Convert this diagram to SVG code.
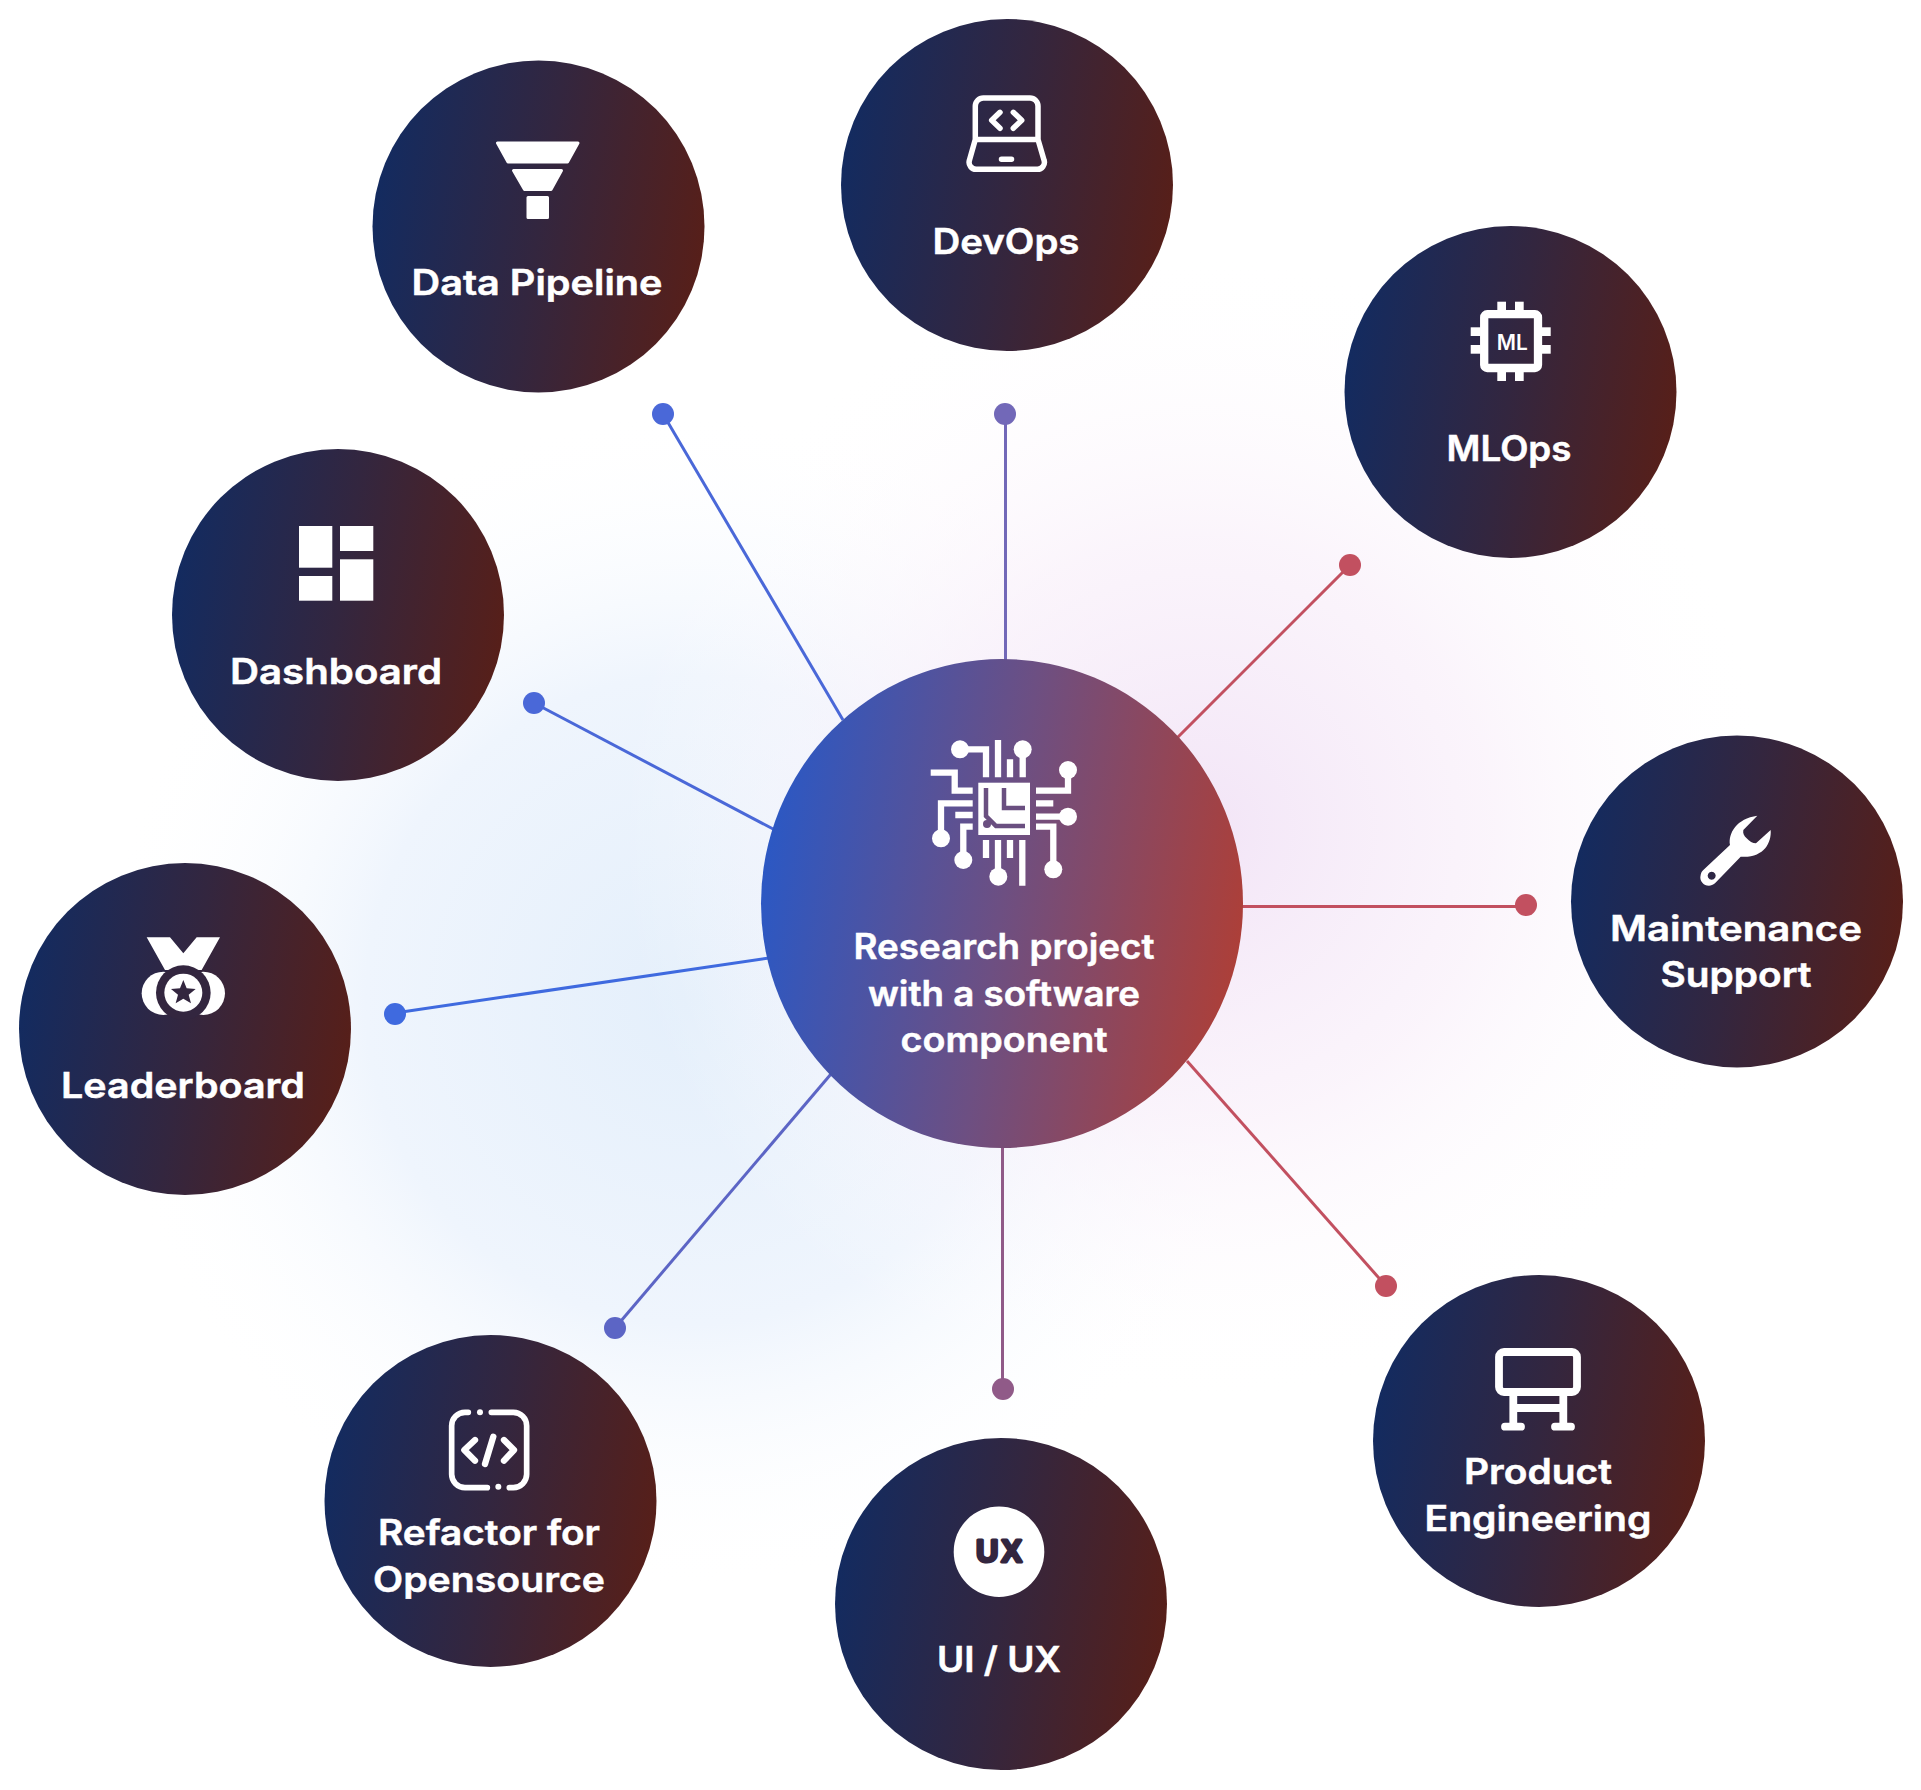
<svg xmlns="http://www.w3.org/2000/svg" width="1921" height="1790" viewBox="0 0 1921 1790">
<style>
.lbl{font-family:"Inter","Liberation Sans",sans-serif;font-weight:600;font-size:35px;fill:#fff;stroke:#fff;stroke-width:.5;text-anchor:middle}
.w{fill:#fff}
.s{fill:none;stroke:#fff;stroke-linecap:round;stroke-linejoin:round}
.b{fill:none;stroke:#fff;stroke-linecap:butt;stroke-linejoin:miter;stroke-width:6.3}
.con{stroke-width:3;fill:none}
.node{fill:url(#nodeGrad)}
</style>
<defs>
<linearGradient id="nodeGrad" x1="0" y1="0.42" x2="1" y2="0.58"><stop offset="0" stop-color="#132b60"/><stop offset="0.5" stop-color="#33263f"/><stop offset="1" stop-color="#571f19"/></linearGradient>
<linearGradient id="hubGrad" x1="0" y1="0.42" x2="1" y2="0.58"><stop offset="0" stop-color="#2b58c4"/><stop offset="0.5" stop-color="#6d4f82"/><stop offset="1" stop-color="#ad3f38"/></linearGradient>
<radialGradient id="bgBlue"><stop offset="0" stop-color="#e4effb"/><stop offset="0.55" stop-color="#eff5fd"/><stop offset="1" stop-color="#fff" stop-opacity="0"/></radialGradient>
<radialGradient id="bgPink"><stop offset="0" stop-color="#f0e0f5" stop-opacity="0.85"/><stop offset="0.5" stop-color="#f9f0fa" stop-opacity="0.7"/><stop offset="1" stop-color="#fff" stop-opacity="0"/></radialGradient>
</defs>
<rect width="1921" height="1790" fill="#fff"/>
<circle cx="690" cy="1000" r="590" fill="url(#bgBlue)"/>
<circle cx="1200" cy="830" r="580" fill="url(#bgPink)"/>

<g id="connectors">
<g class="con">
<line x1="663" y1="414" x2="843" y2="720" stroke="#4a68d8"/>
<line x1="1005.5" y1="414" x2="1005.5" y2="662" stroke="#7268b8"/>
<line x1="1350" y1="565" x2="1177" y2="738" stroke="#c25060"/>
<line x1="1526" y1="906.5" x2="1242" y2="906.5" stroke="#c25060"/>
<line x1="1386" y1="1286" x2="1187" y2="1061" stroke="#c25060"/>
<line x1="1002.5" y1="1389" x2="1002.5" y2="1146" stroke="#905a88"/>
<line x1="615" y1="1328" x2="831" y2="1074" stroke="#5c65c5"/>
<line x1="395" y1="1013" x2="769" y2="958" stroke="#3f6adf"/>
<line x1="534" y1="703" x2="775" y2="830" stroke="#4a68d8"/>
</g>
<circle cx="663" cy="414" r="11" fill="#4a68d8"/>
<circle cx="1005" cy="414" r="11" fill="#7268b8"/>
<circle cx="1350" cy="565" r="11" fill="#c25060"/>
<circle cx="1526" cy="905" r="11" fill="#c25060"/>
<circle cx="1386" cy="1286" r="11" fill="#c25060"/>
<circle cx="1003" cy="1389" r="11" fill="#905a88"/>
<circle cx="615" cy="1328" r="11" fill="#5c65c5"/>
<circle cx="395" cy="1014" r="11" fill="#3f6adf"/>
<circle cx="534" cy="703" r="11" fill="#4a68d8"/>
</g>

<g id="hub">
<ellipse cx="1002" cy="903.5" rx="241" ry="244.5" fill="url(#hubGrad)"/>
<g class="b">
<path d="M960 749.3H986V777.3M998 740V777.3M1010 759.3V777.3M1022.7 749.3V777.3M930.7 772.7H954.7V790.7H972.7M941 838V803.3H972.7M955.3 815H972.7M963.3 860V826.7H972.7M1036 790.7H1068V770M1036 803.3H1053.3M1036 816.7H1068M1036 826.7H1053.3V869.3M986 840V858M998 840V876.7M1010 840V858M1022.3 840V885.7"/>
</g>
<g class="w">
<circle cx="960" cy="749.3" r="9"/><circle cx="1022.7" cy="749.3" r="9"/><circle cx="1068" cy="770" r="9"/><circle cx="1068" cy="816.7" r="9"/><circle cx="941" cy="838.3" r="9"/><circle cx="963.3" cy="860" r="9"/><circle cx="998.3" cy="876.7" r="9"/><circle cx="1053.3" cy="869.3" r="9"/>
<rect x="978.3" y="782.7" width="51.7" height="52.3"/>
</g>
<path d="M986 788V816L996 826H1025M1004 788V808H1025" fill="none" stroke="#6a4f80" stroke-width="4.5"/>
<circle cx="987" cy="824" r="4" fill="#6a4f80"/>
<text class="lbl" x="1004" y="959" textLength="301" lengthAdjust="spacingAndGlyphs">Research project</text>
<text class="lbl" x="1004" y="1006" textLength="272" lengthAdjust="spacingAndGlyphs">with a software</text>
<text class="lbl" x="1004" y="1052" textLength="207" lengthAdjust="spacingAndGlyphs">component</text>
</g>

<g id="node-data-pipeline">
<circle class="node" cx="538.5" cy="226.5" r="166"/>
<g class="w" stroke="#fff" stroke-width="3" stroke-linejoin="round">
<polygon points="497.5,143 578,143 567.5,162 508,162"/>
<polygon points="513.5,170.5 561.5,170.5 551,189.5 524.5,189.5"/>
<rect x="528" y="197.5" width="19.5" height="20"/>
</g>
<text class="lbl" x="537" y="295" textLength="251" lengthAdjust="spacingAndGlyphs">Data Pipeline</text>
</g>

<g id="node-devops">
<circle class="node" cx="1007" cy="185" r="166"/>
<g class="s" stroke-width="5.5">
<path d="M975.3 139.5V106a8 8 0 0 1 8-8H1030a8 8 0 0 1 8 8V139.5M975.3 139.5H1038M975.3 139.5L969.5 160a7 7 0 0 0 7 9.3H1037a7 7 0 0 0 7-9.3L1038 139.5"/>
<path d="M1000 112.3L991.7 120.3L1000 128.3M1013.3 112.3L1021.7 120.3L1013.3 128.3M1001.5 159.3H1011.5"/>
</g>
<text class="lbl" x="1006" y="254" textLength="147" lengthAdjust="spacingAndGlyphs">DevOps</text>
</g>

<g id="node-mlops">
<circle class="node" cx="1510.5" cy="392" r="166"/>
<rect x="1484.2" y="314.2" width="53.8" height="53.8" rx="3" fill="none" stroke="#fff" stroke-width="8.3"/>
<g class="w">
<rect x="1497.3" y="301.7" width="8.7" height="9"/><rect x="1515" y="301.7" width="8.7" height="9"/>
<rect x="1497.3" y="372" width="8.7" height="9"/><rect x="1515" y="372" width="8.7" height="9"/>
<rect x="1470.7" y="327.3" width="10" height="8.7"/><rect x="1470.7" y="345" width="10" height="8.7"/>
<rect x="1542" y="327.3" width="8.7" height="8.7"/><rect x="1542" y="345" width="8.7" height="8.7"/>
</g>
<text x="1512.3" y="350" font-family="Inter,'Liberation Sans',sans-serif" font-weight="600" font-size="21" fill="#fff" text-anchor="middle" textLength="31" lengthAdjust="spacingAndGlyphs">ML</text>
<text class="lbl" x="1509" y="461" textLength="125" lengthAdjust="spacingAndGlyphs">MLOps</text>
</g>

<g id="node-maintenance">
<circle class="node" cx="1737" cy="901.5" r="166"/>
<path transform="translate(1680 800) scale(.3333)" class="w" fill-rule="evenodd" d="M70 210L150 135C144 100 170 55 232 47L190 90C188 100 192 108 200 115C208 124 218 130 228 130L272 90C275 130 250 175 182 170L105 250C85 268 55 250 62 225C63 218 66 214 70 210ZM95 215a12 12 0 1 0 .1 0Z"/>
<text class="lbl" x="1736" y="941" textLength="252" lengthAdjust="spacingAndGlyphs">Maintenance</text>
<text class="lbl" x="1736" y="987" textLength="151" lengthAdjust="spacingAndGlyphs">Support</text>
</g>

<g id="node-product-engineering">
<circle class="node" cx="1539" cy="1441" r="166"/>
<g class="s" stroke-width="7.8">
<rect x="1499" y="1352" width="78" height="40" rx="5"/>
<path d="M1513.3 1392V1426M1563.3 1392V1426M1513.3 1408H1563.3" stroke-linecap="butt"/>
<path d="M1505 1426.7H1521M1555 1426.7H1571"/>
</g>
<text class="lbl" x="1538" y="1484" textLength="148" lengthAdjust="spacingAndGlyphs">Product</text>
<text class="lbl" x="1538" y="1531" textLength="227" lengthAdjust="spacingAndGlyphs">Engineering</text>
</g>

<g id="node-ui-ux">
<circle class="node" cx="1001" cy="1604" r="166"/>
<circle cx="999" cy="1551.7" r="45.3" fill="#fff"/>
<text x="999" y="1562" font-family="'Liberation Sans',sans-serif" font-weight="700" font-size="31" fill="#33263f" stroke="#33263f" stroke-width="3" stroke-linejoin="round" text-anchor="middle" textLength="46" lengthAdjust="spacing">UX</text>
<text class="lbl" x="999" y="1672" textLength="124" lengthAdjust="spacingAndGlyphs">UI / UX</text>
</g>

<g id="node-refactor">
<circle class="node" cx="490.5" cy="1501" r="166"/>
<g transform="translate(430 1395) scale(.3333)">
<g class="s" stroke-width="17">
<path d="M115 52H105a40 40 0 0 0-40 40V238a40 40 0 0 0 40 40H172M238 278H250a40 40 0 0 0 40-40V92a40 40 0 0 0-40-40H184"/>
<path d="M135 135L103 165L135 197M222 135L252 165L222 197M190 125L165 207" stroke-width="19"/>
</g>
<circle class="w" cx="150" cy="52" r="9"/><circle class="w" cx="205" cy="275" r="9"/>
</g>
<text class="lbl" x="489" y="1545" textLength="222" lengthAdjust="spacingAndGlyphs">Refactor for</text>
<text class="lbl" x="489" y="1592" textLength="232" lengthAdjust="spacingAndGlyphs">Opensource</text>
</g>

<g id="node-leaderboard">
<circle class="node" cx="185" cy="1029" r="166"/>
<g transform="translate(125 925) scale(.3333)">
<circle class="w" cx="115" cy="205" r="65"/><circle class="w" cx="235" cy="205" r="65"/>
<polygon class="w" points="65,37 135,37 175,85 215,37 285,37 230,135 120,135"/>
<circle cx="175" cy="203" r="82" fill="#33263f"/>
<circle class="w" cx="175" cy="203" r="57"/>
<polygon fill="#33263f" points="175,165 185,190 212,192 191,209 198,235 175,221 152,235 159,209 138,192 165,190"/>
</g>
<text class="lbl" x="183" y="1098" textLength="244" lengthAdjust="spacingAndGlyphs">Leaderboard</text>
</g>

<g id="node-dashboard">
<circle class="node" cx="338" cy="615" r="166"/>
<g class="w">
<rect x="299" y="526" width="33.3" height="41.7"/><rect x="340" y="526" width="33.3" height="25"/>
<rect x="299" y="576" width="33.3" height="24.7"/><rect x="340" y="559.3" width="33.3" height="41.4"/>
</g>
<text class="lbl" x="336" y="684" textLength="212" lengthAdjust="spacingAndGlyphs">Dashboard</text>
</g>
</svg>
